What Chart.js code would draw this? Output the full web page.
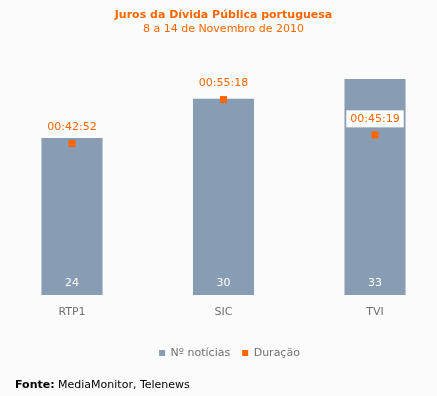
<!DOCTYPE html>
<html>
<head>
<meta charset="utf-8">
<script src="https://cdn.jsdelivr.net/npm/chart.js@4"></script>
<style>
  html, body { margin: 0; padding: 0; background: #fbfbfb; }
  #wrap { position: relative; width: 437px; height: 396px; }
  #fonte { position: absolute; left: 15px; top: 378px; font: 11px/13px "DejaVu Sans", Verdana, sans-serif; color: #000; white-space: nowrap; }
</style>
</head>
<body>
<div id="wrap">
  <canvas id="grafico" width="437" height="396"></canvas>
  <div id="fonte"><b>Fonte:</b> MediaMonitor, Telenews</div>
</div>
<script>
// Dados
const canais = ['RTP1', 'SIC', 'TVI'];
const numNoticias = [24, 30, 33];
const duracaoSeg = [2572, 3318, 2719]; // 00:42:52, 00:55:18, 00:45:19
const limitesNoticias = [0, 36];
const limitesDuracao = [0, 4000];

const fonte = 'DejaVu Sans';
const laranja = '#ff6600';
const cinza = '#889cb4';

function formatarTempo(seg) {
    const h = Math.floor(seg / 3600);
    const m = Math.floor((seg % 3600) / 60);
    const s = seg % 60;
    return [h, m, s].map(v => String(v).padStart(2, '0')).join(':');
}

// Rótulos dos valores (número dentro da barra, duração sobre o ponto)
const rotulos = {
    id: 'rotulos',
    afterLayout(chart) {
        // legenda um pouco mais à direita, como no original
        chart.legend.left += 6;
        chart.legend.right += 6;
    },
    afterDatasetsDraw(chart) {
        const ctx = chart.ctx;
        const barras = chart.getDatasetMeta(0).data;
        const pontos = chart.getDatasetMeta(1).data;
        ctx.save();
        ctx.font = '11px "' + fonte + '"';
        ctx.textAlign = 'center';
        ctx.textBaseline = 'middle';

        ctx.fillStyle = '#ffffff';
        barras.forEach((b, i) => ctx.fillText(String(numNoticias[i]), b.x, b.base - 12));

        pontos.forEach((p, i) => {
            const txt = formatarTempo(duracaoSeg[i]);
            const y = p.y - 16;
            const w = ctx.measureText(txt).width + 8;
            const b = barras[i];
            if (y + 8.5 > b.y) { // caixa branca quando o rótulo cai sobre a barra
                ctx.fillStyle = '#ffffff';
                ctx.fillRect(p.x - w / 2, y - 8.5, w, 17);
            }
            ctx.fillStyle = laranja;
            ctx.fillText(txt, p.x, y);
        });
        ctx.restore();
    }
};

new Chart(document.getElementById('grafico'), {
    data: {
        labels: canais,
        datasets: [
            {
                type: 'bar',
                label: 'Nº notícias',
                data: numNoticias,
                backgroundColor: cinza,
                yAxisID: 'y',
                categoryPercentage: 1,
                barPercentage: 0.403,
                clip: false
            },
            {
                type: 'line',
                label: 'Duração',
                data: duracaoSeg,
                yAxisID: 'y2',
                showLine: false,
                pointStyle: 'rect',
                pointRadius: 5,
                pointHoverRadius: 5,
                pointBorderWidth: 0,
                backgroundColor: laranja,
                borderColor: laranja,
                borderWidth: 0,
                order: -1,
                clip: false
            }
        ]
    },
    options: {
        responsive: false,
        animation: false,
        layout: { padding: { left: 72, right: 62, top: 0, bottom: 27.5 } },
        plugins: {
            title: {
                display: true,
                text: 'Juros da Dívida Pública portuguesa',
                color: laranja,
                font: { family: fonte, size: 11, weight: 'bold' },
                padding: { top: 9, bottom: 0 }
            },
            subtitle: {
                display: true,
                text: '8 a 14 de Novembro de 2010',
                color: laranja,
                font: { family: fonte, size: 11 },
                padding: { top: 0, bottom: 24 }
            },
            legend: {
                position: 'bottom',
                labels: {
                    boxWidth: 6,
                    boxHeight: 6,
                    padding: 12,
                    color: '#707070',
                    font: { family: fonte, size: 11 },
                    sort: (a, b) => a.datasetIndex - b.datasetIndex
                }
            },
            tooltip: { enabled: false }
        },
        scales: {
            x: {
                offset: false,
                grid: { display: false, drawTicks: false },
                border: { display: false },
                ticks: { color: '#707070', padding: 11, font: { family: fonte, size: 11 } },
                afterFit: s => { s.height = 40.5; }
            },
            y: { display: false, min: limitesNoticias[0], max: limitesNoticias[1] },
            y2: { display: false, min: limitesDuracao[0], max: limitesDuracao[1] }
        }
    },
    plugins: [rotulos]
});
</script>
</body>
</html>
